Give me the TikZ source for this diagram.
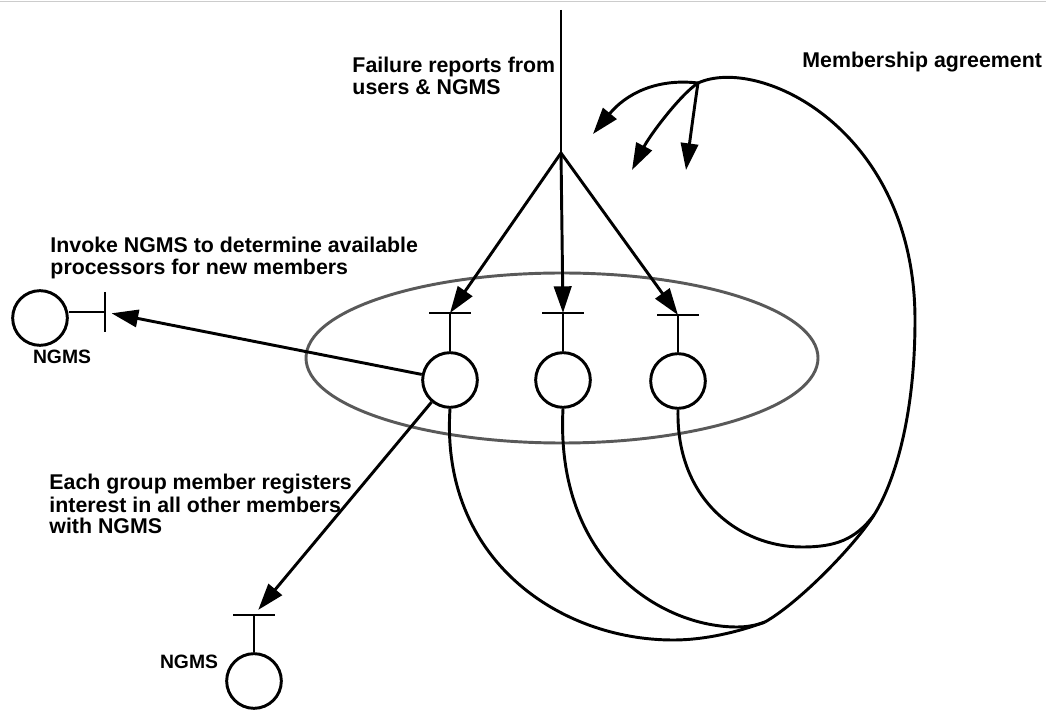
\documentclass[tikz,border=0pt]{standalone}
\usepackage{fontspec}
\setmainfont{Liberation Sans}
\usetikzlibrary{arrows.meta}

\tikzset{every picture/.style={line width=2.2pt}}
\tikzset{
  member/.style={draw, circle, minimum size=41pt, inner sep=0pt},
  lbl/.style={font=\bfseries\fontsize{16}{16.5}\selectfont, align=left, inner sep=0pt},
  small lbl/.style={lbl, font=\bfseries\fontsize{14.5}{15}\selectfont},
  tip/.style={-{Triangle[length=20pt,width=13pt]}}
}

\begin{document}
\begin{tikzpicture}[x=0.75pt,y=0.75pt,yscale=-1,xscale=1]
\useasboundingbox (0,0) rectangle (1046,712);
%page rule
\draw [color=black!20, line width=1.2pt] (0,1.5) -- (1046,1.5) ;

%Shape: Ellipse
\draw [color=black!65] (562,358) ellipse [x radius=256, y radius=85] ;

%Shape: Circle
\node [member] (m1) at (450,380) {};
\node [member] (m2) at (563,380) {};
\node [member] (m3) at (678,381) {};
\node [member] (nl) at (40,318) {};
\node [member] (nb) at (254,681) {};

%Bars
\coordinate (b1) at (450,313);
\coordinate (b2) at (563,313);
\coordinate (b3) at (678,315);
\coordinate (bb) at (254,615);
\coordinate (bl) at (105,312);
\foreach \b/\m in {b1/m1,b2/m2,b3/m3,bb/nb}{
  \draw (\b) ++(-21,0) -- ++(42,0) ;
  \draw (\b) -- (\m) ;
}
\draw (bl) ++(0,-20) -- ++(0,40) ;
\draw (nl.east |- bl) -- (bl) ;

%Straight Lines
\coordinate (src) at (561,10);
\coordinate (fork) at (561,153);
\draw (src) -- (fork) ;
\foreach \b in {b1,b2,b3}
  \draw [tip] (fork) -- (\b) ;
\draw [tip, shorten >=5pt] (m1) -- (bl) ;
\draw [tip, shorten >=5pt] (m1) -- (bb) ;

%Curve Lines
\coordinate (O) at (698,83);
\coordinate (K) at (874,515);
\coordinate (M) at (765,622);
\draw (M) .. controls (800,602) and (855,545) .. (K) .. controls (893,485) and (915,420) .. (915,320) .. controls (915,130) and (760,55) .. (O) ;
\draw (m3.south) .. controls (676,500) and (740,547) .. (802,547) .. controls (835,547) and (855,540) .. (K) ;
\draw (m2.south) .. controls (555,560) and (660,627) .. (737,627) .. controls (748,627) and (757,625) .. (M) ;
\draw (m1.south) .. controls (440,560) and (560,640) .. (673,640) .. controls (705,640) and (738,632) .. (M) ;

%Agreement arrows
\coordinate (a1) at (593,134);
\coordinate (a2) at (632,170);
\coordinate (a3) at (686,170);
\draw [tip] (O) .. controls (655,78) and (625,95) .. (a1) ;
\draw [tip] (O) .. controls (680,95) and (650,135) .. (a2) ;
\draw [tip] (O) .. controls (694,110) and (690,140) .. (a3) ;

% Text Node
\node [lbl, anchor=base west] (fail) at (351,95) {Failure reports from\\users \& NGMS};
\node [lbl, anchor=base west] (agree) at (801,68) {Membership agreement};
\node [lbl, anchor=base west] (invoke) at (49,275) {Invoke NGMS to determine available\\processors for new members};
\node [small lbl, anchor=base] (ngl) at (62,364) {NGMS};
\node [lbl, anchor=base west] (reg) at (48,534) {Each group member registers\\interest in all other members\\with NGMS};
\node [small lbl, anchor=base] (ngb) at (189,668) {NGMS};
\end{tikzpicture}
\end{document}
